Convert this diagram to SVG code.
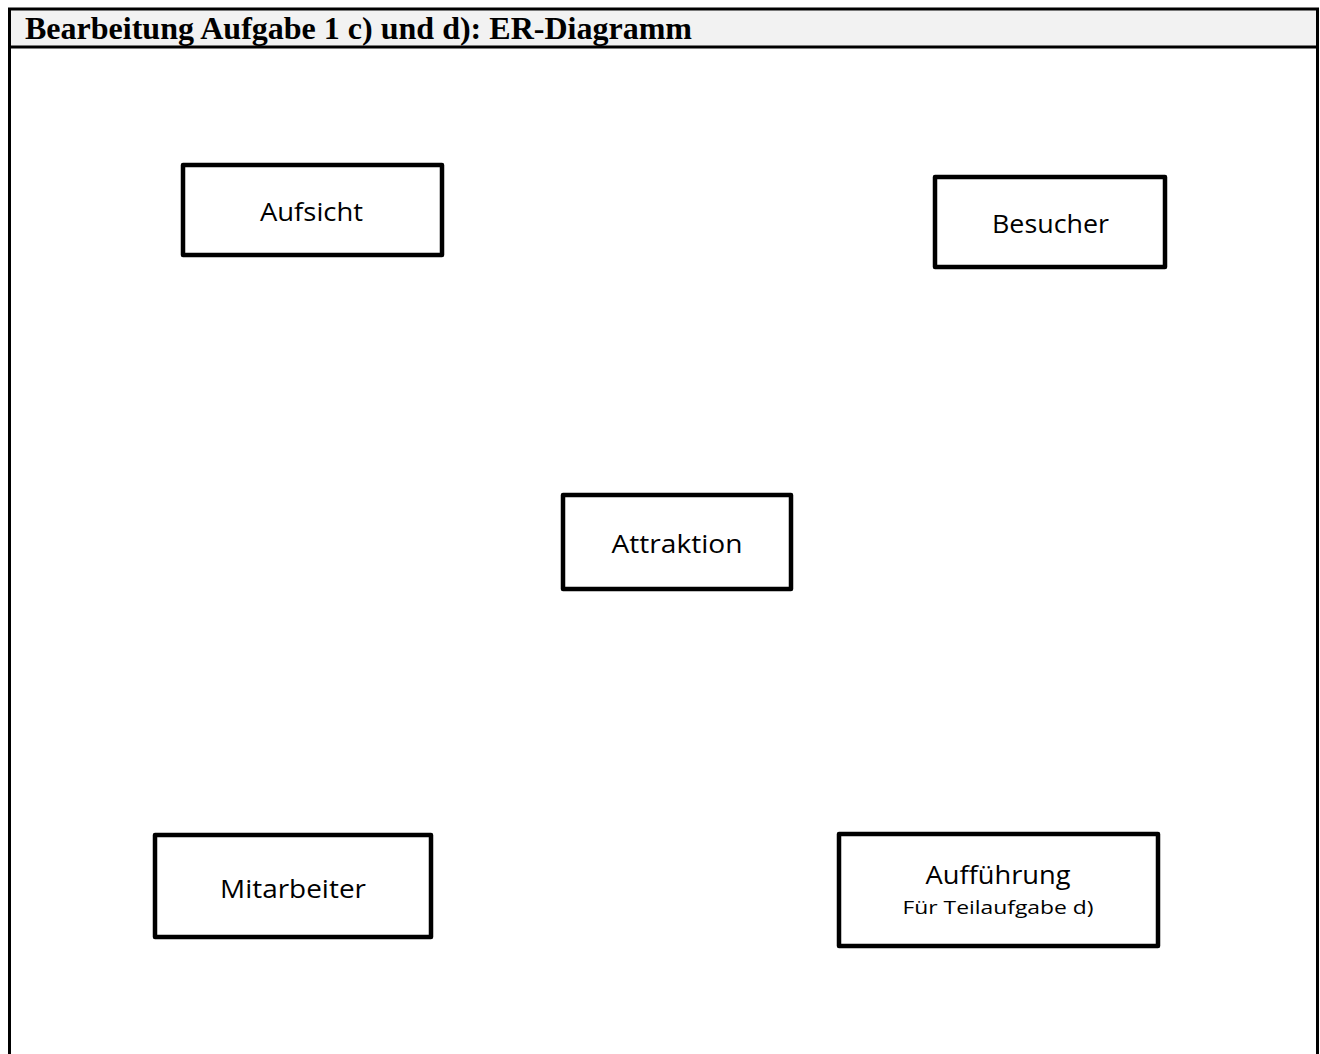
<svg xmlns="http://www.w3.org/2000/svg" width="1320" height="1054" viewBox="0 0 1320 1054">
<style>
.frame{fill:none;stroke:#000;stroke-width:3}
.ent{fill:#fff;stroke:#000;stroke-width:4.5;stroke-linejoin:round}
.lbl{font-family:"Open Sans","Noto Sans","Liberation Sans",sans-serif;font-size:26px;fill:#000;text-anchor:middle}
.sub{font-family:"Open Sans","Noto Sans","Liberation Sans",sans-serif;font-size:19px;fill:#000;text-anchor:middle}
.title{font-family:"Liberation Serif","Times New Roman",serif;font-weight:bold;font-size:32px;fill:#000}
</style>
<rect x="0" y="0" width="1320" height="1054" fill="#fff"/>
<g id="header">
<rect x="9.5" y="9" width="1308" height="38" fill="#f2f2f2"/>
<text class="title" x="25" y="39" textLength="667" lengthAdjust="spacingAndGlyphs">Bearbeitung Aufgabe 1 c) und d): ER-Diagramm</text>
<path class="frame" d="M9.5 1054 V9 H1317.5 V1054 M9.5 47 H1317.5"/>
</g>
<g id="connectors"></g>
<g id="aufsicht">
<rect class="ent" x="183" y="165" width="259" height="90"/>
<text class="lbl" x="311.5" y="221" textLength="103" lengthAdjust="spacingAndGlyphs">Aufsicht</text>
</g>
<g id="besucher">
<rect class="ent" x="935" y="177" width="230" height="90"/>
<text class="lbl" x="1050.5" y="233" textLength="117" lengthAdjust="spacingAndGlyphs">Besucher</text>
</g>
<g id="attraktion">
<rect class="ent" x="563" y="495" width="228" height="94"/>
<text class="lbl" x="677" y="553" textLength="131" lengthAdjust="spacingAndGlyphs">Attraktion</text>
</g>
<g id="mitarbeiter">
<rect class="ent" x="155" y="835" width="276" height="102"/>
<text class="lbl" x="293" y="898" textLength="146" lengthAdjust="spacingAndGlyphs">Mitarbeiter</text>
</g>
<g id="auffuehrung">
<rect class="ent" x="839" y="834" width="319" height="112"/>
<text class="lbl" x="998" y="884" textLength="145" lengthAdjust="spacingAndGlyphs">Aufführung</text>
<text class="sub" x="998" y="914" textLength="191" lengthAdjust="spacingAndGlyphs">Für Teilaufgabe d)</text>
</g>
</svg>
